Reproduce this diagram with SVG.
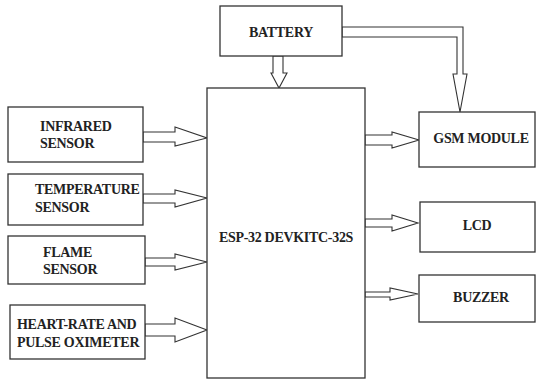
<svg xmlns="http://www.w3.org/2000/svg" width="537" height="380" viewBox="0 0 537 380">
<style>
.box{fill:#fff;stroke:#333;stroke-width:1.3}
.arr{fill:#fff;stroke:#333;stroke-width:1.1;stroke-linejoin:miter}
text{font-family:"Liberation Serif","Times New Roman",serif;font-weight:bold;font-size:14px;letter-spacing:-0.3px;fill:#222}
</style>
<rect width="537" height="380" fill="#fff"/>
<g id="connectors">
<polygon class="arr" points="273,56 283,56 283,73 287,73 279,88 271,73 273,73"/>
<polygon class="arr" points="342,27 463,27 463,74 467,74 460,112 453,74 457,74 457,37 342,37"/>
<polygon class="arr" points="143,132 175,132 175,127 207,138 175,146 175,142 143,142"/>
<polygon class="arr" points="143,194 175,194 175,190 207,198 175,207 175,203 143,203"/>
<polygon class="arr" points="145,258 175,258 175,254 207,262 175,270 175,266 145,266"/>
<polygon class="arr" points="145,324 175,324 175,318 207,330 175,342 175,336 145,336"/>
<polygon class="arr" points="365,135 392,135 392,132 419,140 392,148 392,145 365,145"/>
<polygon class="arr" points="365,219 392,219 392,215 418,223 392,231 392,227 365,227"/>
<polygon class="arr" points="365,292 390,292 390,288 418,294 390,300 390,297 365,297"/>
</g>
<g id="battery">
<rect class="box" x="220" y="6" width="122" height="50"/>
<text x="281" y="37" text-anchor="middle">BATTERY</text>
</g>
<g id="esp32">
<rect class="box" x="207" y="88" width="158" height="290"/>
<text x="286" y="242" text-anchor="middle">ESP-32 DEVKITC-32S</text>
</g>
<g id="infrared">
<rect class="box" x="8" y="107" width="135" height="55"/>
<text x="40" y="131">INFRARED</text>
<text x="40" y="148">SENSOR</text>
</g>
<g id="temperature">
<rect class="box" x="8" y="174" width="135" height="51"/>
<text x="35" y="194">TEMPERATURE</text>
<text x="35" y="212">SENSOR</text>
</g>
<g id="flame">
<rect class="box" x="8" y="236" width="137" height="48"/>
<text x="43" y="257">FLAME</text>
<text x="43" y="274">SENSOR</text>
</g>
<g id="heartrate">
<rect class="box" x="10" y="305" width="135" height="54"/>
<text x="17" y="329">HEART-RATE AND</text>
<text x="17" y="347">PULSE OXIMETER</text>
</g>
<g id="gsm">
<rect class="box" x="419" y="112" width="116" height="55"/>
<text x="481" y="143" text-anchor="middle">GSM MODULE</text>
</g>
<g id="lcd">
<rect class="box" x="420" y="202" width="115" height="50"/>
<text x="477" y="230" text-anchor="middle">LCD</text>
</g>
<g id="buzzer">
<rect class="box" x="419" y="275" width="116" height="47"/>
<text x="481" y="302" text-anchor="middle">BUZZER</text>
</g>
</svg>
